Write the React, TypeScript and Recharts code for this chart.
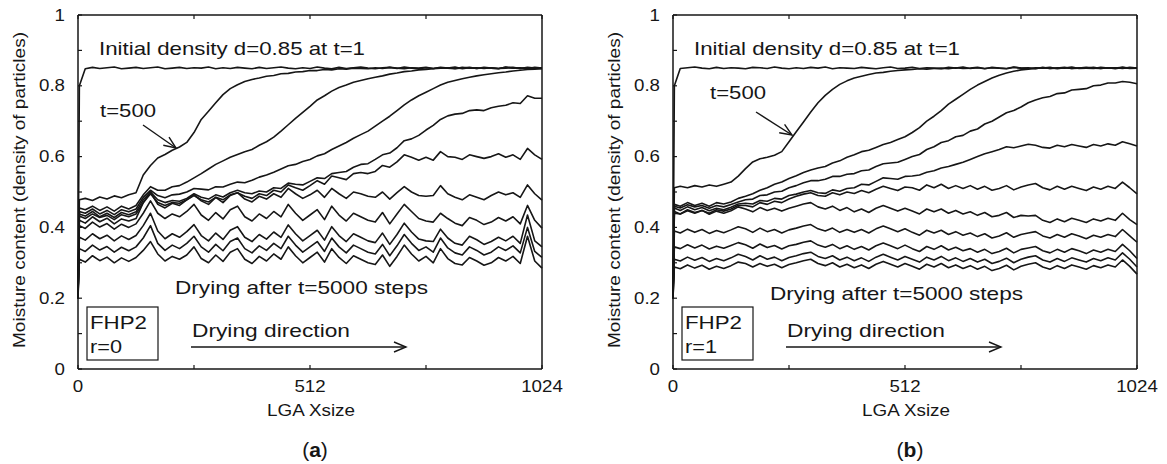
import React from 'react';
import { LineChart, Line, XAxis, YAxis } from 'recharts';

// lattice positions (LGA Xsize) where the profiles were read
const xPos = [
  0, 3,
  16, 32, 48, 64, 80, 96, 112, 128,
  144, 160, 176, 192, 208, 224, 240, 256,
  272, 288, 304, 320, 336, 352, 368, 384,
  400, 416, 432, 448, 464, 480, 496, 512,
  528, 544, 560, 576, 592, 608, 624, 640,
  656, 672, 688, 704, 720, 736, 752, 768,
  784, 800, 816, 832, 848, 864, 880, 896,
  912, 928, 944, 960, 976, 992, 1008, 1024,
];

const xTicks = [0, 256, 512, 768, 1024];
const yTicks = [0, 0.1, 0.2, 0.3, 0.4, 0.5, 0.6, 0.7, 0.8, 0.9, 1];

// ---- panel (a): FHP2, r=0 ----
const aT1 = [
  0.2, 0.8,
  0.848, 0.852, 0.849, 0.851, 0.853, 0.848, 0.850, 0.852,
  0.849, 0.851, 0.853, 0.848, 0.850, 0.852, 0.849, 0.851,
  0.850, 0.853, 0.848, 0.851, 0.849, 0.852, 0.850, 0.848,
  0.852, 0.849, 0.851, 0.853, 0.850, 0.848, 0.851, 0.849,
  0.853, 0.850, 0.848, 0.852, 0.849, 0.851, 0.853, 0.850,
  0.848, 0.851, 0.852, 0.849, 0.853, 0.850, 0.848, 0.851,
  0.849, 0.852, 0.850, 0.853, 0.848, 0.851, 0.849, 0.852,
  0.850, 0.848, 0.853, 0.851, 0.849, 0.852, 0.850, 0.851,
];
const aT500 = [
  0.2, 0.478,
  0.482, 0.476, 0.486, 0.480, 0.489, 0.484, 0.492, 0.498,
  0.548, 0.575, 0.596, 0.606, 0.618, 0.627, 0.640, 0.668,
  0.705, 0.728, 0.752, 0.775, 0.792, 0.803, 0.812, 0.818,
  0.822, 0.827, 0.829, 0.834, 0.835, 0.839, 0.840, 0.843,
  0.843, 0.846, 0.845, 0.848, 0.847, 0.850, 0.849, 0.848,
  0.851, 0.849, 0.852, 0.850, 0.848, 0.851, 0.850, 0.852,
  0.849, 0.851, 0.850, 0.848, 0.852, 0.850, 0.851, 0.849,
  0.851, 0.849, 0.850, 0.852, 0.849, 0.851, 0.850, 0.849,
];
const aT1000 = [
  0.2, 0.455,
  0.450, 0.460, 0.448, 0.458, 0.446, 0.460, 0.452, 0.462,
  0.492, 0.515, 0.505, 0.505, 0.515, 0.518, 0.528, 0.540,
  0.552, 0.565, 0.578, 0.588, 0.598, 0.606, 0.614, 0.620,
  0.632, 0.642, 0.655, 0.672, 0.690, 0.708, 0.725, 0.742,
  0.760, 0.772, 0.785, 0.795, 0.802, 0.810, 0.815, 0.820,
  0.824, 0.828, 0.833, 0.836, 0.840, 0.842, 0.845, 0.846,
  0.848, 0.850, 0.851, 0.849, 0.850, 0.852, 0.849, 0.851,
  0.850, 0.849, 0.852, 0.850, 0.851, 0.849, 0.852, 0.850,
];
const aT1500 = [
  0.2, 0.445,
  0.440, 0.452, 0.438, 0.448, 0.436, 0.450, 0.444, 0.452,
  0.485, 0.505, 0.490, 0.484, 0.492, 0.494, 0.500, 0.510,
  0.508, 0.506, 0.515, 0.514, 0.522, 0.528, 0.526, 0.533,
  0.542, 0.548, 0.556, 0.565, 0.574, 0.578, 0.586, 0.592,
  0.602, 0.608, 0.620, 0.630, 0.640, 0.652, 0.662, 0.672,
  0.686, 0.700, 0.714, 0.730, 0.746, 0.760, 0.772, 0.782,
  0.792, 0.802, 0.810, 0.815, 0.820, 0.824, 0.828, 0.831,
  0.834, 0.837, 0.839, 0.842, 0.844, 0.846, 0.847, 0.848,
];
const aT2000 = [
  0.2, 0.438,
  0.432, 0.445, 0.430, 0.440, 0.428, 0.442, 0.436, 0.444,
  0.478, 0.500, 0.478, 0.470, 0.476, 0.474, 0.482, 0.495,
  0.485, 0.480, 0.492, 0.486, 0.498, 0.505, 0.498, 0.495,
  0.503, 0.500, 0.512, 0.510, 0.525, 0.522, 0.520, 0.530,
  0.540, 0.538, 0.552, 0.555, 0.558, 0.570, 0.578, 0.580,
  0.592, 0.605, 0.610, 0.625, 0.645, 0.650, 0.660, 0.675,
  0.688, 0.705, 0.715, 0.720, 0.722, 0.730, 0.732, 0.730,
  0.738, 0.742, 0.745, 0.752, 0.750, 0.772, 0.765, 0.765,
];
const aT2500 = [
  0.2, 0.432,
  0.425, 0.438, 0.428, 0.434, 0.422, 0.436, 0.430, 0.438,
  0.470, 0.495, 0.470, 0.462, 0.470, 0.468, 0.478, 0.490,
  0.478, 0.472, 0.485, 0.478, 0.492, 0.498, 0.488, 0.482,
  0.495, 0.490, 0.505, 0.500, 0.520, 0.512, 0.505, 0.518,
  0.532, 0.522, 0.545, 0.540, 0.535, 0.552, 0.555, 0.552,
  0.558, 0.575, 0.570, 0.585, 0.605, 0.598, 0.590, 0.598,
  0.590, 0.614, 0.600, 0.598, 0.592, 0.605, 0.600, 0.595,
  0.600, 0.608, 0.598, 0.605, 0.592, 0.623, 0.605, 0.592,
];
const aT3000 = [
  0.2, 0.420,
  0.412, 0.430, 0.416, 0.426, 0.410, 0.424, 0.418, 0.425,
  0.470, 0.500, 0.465, 0.455, 0.468, 0.462, 0.478, 0.492,
  0.475, 0.465, 0.485, 0.470, 0.490, 0.498, 0.480, 0.472,
  0.488, 0.480, 0.495, 0.485, 0.510, 0.495, 0.482, 0.492,
  0.505, 0.485, 0.510, 0.495, 0.482, 0.500, 0.495, 0.488,
  0.485, 0.500, 0.480, 0.498, 0.515, 0.500, 0.490, 0.488,
  0.490, 0.518, 0.495, 0.485, 0.478, 0.492, 0.485, 0.478,
  0.490, 0.500, 0.492, 0.498, 0.485, 0.520, 0.495, 0.477,
];
const aT3500 = [
  0.2, 0.405,
  0.397, 0.415, 0.401, 0.411, 0.395, 0.409, 0.400, 0.410,
  0.440, 0.475, 0.440, 0.425, 0.438, 0.430, 0.445, 0.465,
  0.435, 0.420, 0.442, 0.424, 0.450, 0.460, 0.430, 0.418,
  0.438, 0.425, 0.445, 0.430, 0.465, 0.440, 0.420, 0.435,
  0.450, 0.422, 0.460, 0.435, 0.418, 0.440, 0.430, 0.420,
  0.415, 0.442, 0.410, 0.438, 0.465, 0.445, 0.425, 0.418,
  0.415, 0.440, 0.425, 0.412, 0.405, 0.428, 0.420, 0.408,
  0.415, 0.428, 0.418, 0.430, 0.410, 0.462, 0.420, 0.398,
];
const aT4000 = [
  0.2, 0.372,
  0.364, 0.382, 0.368, 0.378, 0.362, 0.376, 0.366, 0.377,
  0.405, 0.440, 0.390, 0.368, 0.382, 0.372, 0.388, 0.408,
  0.377, 0.362, 0.384, 0.366, 0.392, 0.402, 0.372, 0.360,
  0.380, 0.367, 0.387, 0.372, 0.407, 0.382, 0.362, 0.377,
  0.392, 0.364, 0.402, 0.377, 0.360, 0.382, 0.372, 0.362,
  0.357, 0.384, 0.352, 0.380, 0.412, 0.387, 0.367, 0.362,
  0.360, 0.395, 0.370, 0.355, 0.350, 0.375, 0.365, 0.352,
  0.360, 0.372, 0.362, 0.375, 0.355, 0.435, 0.362, 0.345,
];
const aT4500 = [
  0.2, 0.340,
  0.332, 0.350, 0.336, 0.346, 0.330, 0.344, 0.334, 0.345,
  0.370, 0.405, 0.355, 0.335, 0.350, 0.340, 0.355, 0.375,
  0.345, 0.330, 0.352, 0.334, 0.360, 0.370, 0.340, 0.328,
  0.348, 0.335, 0.355, 0.340, 0.375, 0.350, 0.330, 0.345,
  0.360, 0.332, 0.370, 0.345, 0.328, 0.350, 0.340, 0.330,
  0.325, 0.352, 0.320, 0.348, 0.380, 0.355, 0.335, 0.345,
  0.330, 0.370, 0.342, 0.328, 0.322, 0.345, 0.335, 0.322,
  0.330, 0.345, 0.335, 0.348, 0.328, 0.400, 0.332, 0.315,
];
const aT5000 = [
  0.2, 0.310,
  0.302, 0.320, 0.306, 0.316, 0.300, 0.314, 0.304, 0.315,
  0.335, 0.360, 0.325, 0.305, 0.318, 0.310, 0.322, 0.345,
  0.312, 0.300, 0.322, 0.304, 0.330, 0.340, 0.310, 0.298,
  0.318, 0.305, 0.325, 0.310, 0.345, 0.320, 0.300, 0.315,
  0.330, 0.302, 0.340, 0.315, 0.298, 0.320, 0.310, 0.300,
  0.295, 0.322, 0.290, 0.318, 0.350, 0.325, 0.305, 0.318,
  0.300, 0.340, 0.312, 0.298, 0.294, 0.315, 0.305, 0.293,
  0.300, 0.315, 0.305, 0.318, 0.298, 0.375, 0.305, 0.285,
];

// ---- panel (b): FHP2, r=1 ----
const bT1 = [
  0.2, 0.8,
  0.849, 0.851, 0.853, 0.850, 0.848, 0.852, 0.849, 0.851,
  0.850, 0.848, 0.852, 0.851, 0.849, 0.853, 0.850, 0.848,
  0.851, 0.849, 0.852, 0.850, 0.853, 0.848, 0.851, 0.850,
  0.849, 0.852, 0.850, 0.848, 0.851, 0.853, 0.849, 0.850,
  0.852, 0.849, 0.851, 0.850, 0.848, 0.852, 0.850, 0.853,
  0.849, 0.851, 0.848, 0.852, 0.850, 0.849, 0.853, 0.850,
  0.851, 0.848, 0.852, 0.849, 0.851, 0.850, 0.853, 0.849,
  0.850, 0.852, 0.849, 0.851, 0.848, 0.852, 0.850, 0.851,
];
const bT500 = [
  0.2, 0.512,
  0.516, 0.512, 0.518, 0.514, 0.520, 0.516, 0.522, 0.528,
  0.545, 0.566, 0.585, 0.594, 0.598, 0.604, 0.614, 0.642,
  0.670, 0.698, 0.726, 0.752, 0.773, 0.790, 0.804, 0.814,
  0.822, 0.827, 0.832, 0.836, 0.838, 0.841, 0.843, 0.845,
  0.846, 0.848, 0.847, 0.849, 0.850, 0.848, 0.851, 0.849,
  0.850, 0.852, 0.849, 0.851, 0.850, 0.848, 0.852, 0.850,
  0.849, 0.851, 0.850, 0.852, 0.848, 0.851, 0.849, 0.850,
  0.852, 0.850, 0.849, 0.851, 0.850, 0.852, 0.849, 0.850,
];
const bT1000 = [
  0.2, 0.465,
  0.460, 0.470, 0.462, 0.468, 0.460, 0.470, 0.466, 0.472,
  0.482, 0.488, 0.495, 0.505, 0.512, 0.522, 0.528, 0.538,
  0.546, 0.555, 0.562, 0.568, 0.572, 0.582, 0.588, 0.598,
  0.605, 0.614, 0.618, 0.626, 0.634, 0.640, 0.648, 0.656,
  0.668, 0.682, 0.700, 0.714, 0.730, 0.748, 0.762, 0.776,
  0.790, 0.802, 0.812, 0.822, 0.830, 0.836, 0.841, 0.845,
  0.847, 0.849, 0.851, 0.849, 0.850, 0.852, 0.849, 0.851,
  0.850, 0.849, 0.852, 0.850, 0.851, 0.849, 0.852, 0.850,
];
const bT1500 = [
  0.2, 0.460,
  0.455, 0.464, 0.458, 0.462, 0.454, 0.462, 0.458, 0.465,
  0.472, 0.478, 0.480, 0.490, 0.492, 0.500, 0.502, 0.512,
  0.518, 0.526, 0.532, 0.532, 0.536, 0.544, 0.544, 0.550,
  0.552, 0.560, 0.562, 0.572, 0.580, 0.582, 0.584, 0.592,
  0.600, 0.606, 0.620, 0.628, 0.640, 0.645, 0.656, 0.660,
  0.672, 0.678, 0.692, 0.700, 0.712, 0.724, 0.730, 0.740,
  0.752, 0.760, 0.766, 0.770, 0.778, 0.780, 0.788, 0.790,
  0.792, 0.800, 0.802, 0.808, 0.808, 0.812, 0.810, 0.806,
];
const bT2000 = [
  0.2, 0.455,
  0.448, 0.458, 0.450, 0.456, 0.447, 0.454, 0.450, 0.457,
  0.466, 0.468, 0.466, 0.476, 0.474, 0.482, 0.480, 0.490,
  0.494, 0.500, 0.504, 0.498, 0.496, 0.506, 0.502, 0.510,
  0.512, 0.522, 0.520, 0.530, 0.540, 0.538, 0.536, 0.544,
  0.545, 0.548, 0.556, 0.560, 0.568, 0.572, 0.578, 0.584,
  0.592, 0.600, 0.608, 0.614, 0.620, 0.628, 0.625, 0.630,
  0.635, 0.632, 0.626, 0.624, 0.632, 0.628, 0.634, 0.630,
  0.626, 0.634, 0.630, 0.636, 0.632, 0.642, 0.636, 0.630,
];
const bT2500 = [
  0.2, 0.445,
  0.438, 0.450, 0.442, 0.448, 0.440, 0.450, 0.446, 0.452,
  0.462, 0.462, 0.458, 0.470, 0.465, 0.474, 0.470, 0.480,
  0.488, 0.494, 0.498, 0.490, 0.488, 0.498, 0.492, 0.500,
  0.496, 0.504, 0.498, 0.508, 0.516, 0.510, 0.504, 0.514,
  0.512, 0.505, 0.520, 0.512, 0.522, 0.510, 0.518, 0.510,
  0.518, 0.508, 0.516, 0.505, 0.510, 0.518, 0.506, 0.514,
  0.520, 0.524, 0.512, 0.506, 0.516, 0.508, 0.516, 0.510,
  0.504, 0.514, 0.508, 0.516, 0.510, 0.528, 0.512, 0.495,
];
const bT3000 = [
  0.2, 0.440,
  0.438, 0.447, 0.440, 0.448, 0.437, 0.446, 0.440, 0.447,
  0.458, 0.452, 0.444, 0.456, 0.448, 0.454, 0.446, 0.454,
  0.460, 0.466, 0.470, 0.458, 0.452, 0.460, 0.448, 0.456,
  0.444, 0.452, 0.442, 0.454, 0.462, 0.454, 0.446, 0.454,
  0.446, 0.438, 0.452, 0.444, 0.452, 0.440, 0.448, 0.438,
  0.444, 0.434, 0.442, 0.430, 0.434, 0.442, 0.428, 0.434,
  0.432, 0.434, 0.420, 0.414, 0.424, 0.416, 0.426, 0.420,
  0.414, 0.424, 0.418, 0.426, 0.420, 0.440, 0.422, 0.408,
];
const bT3500 = [
  0.2, 0.390,
  0.384, 0.395, 0.386, 0.394, 0.383, 0.391, 0.385, 0.393,
  0.402, 0.396, 0.386, 0.398, 0.388, 0.394, 0.384, 0.393,
  0.398, 0.404, 0.408, 0.396, 0.390, 0.398, 0.386, 0.394,
  0.386, 0.394, 0.384, 0.396, 0.404, 0.396, 0.388, 0.396,
  0.386, 0.378, 0.392, 0.384, 0.392, 0.380, 0.388, 0.378,
  0.384, 0.374, 0.382, 0.370, 0.376, 0.385, 0.372, 0.380,
  0.384, 0.388, 0.376, 0.370, 0.380, 0.372, 0.382, 0.376,
  0.368, 0.378, 0.372, 0.380, 0.374, 0.394, 0.376, 0.358,
];
const bT4000 = [
  0.2, 0.345,
  0.340, 0.351, 0.342, 0.350, 0.339, 0.347, 0.341, 0.349,
  0.357, 0.351, 0.341, 0.353, 0.343, 0.349, 0.339, 0.348,
  0.352, 0.358, 0.362, 0.350, 0.344, 0.352, 0.340, 0.348,
  0.338, 0.346, 0.336, 0.348, 0.356, 0.348, 0.340, 0.350,
  0.340, 0.332, 0.346, 0.338, 0.348, 0.336, 0.344, 0.334,
  0.340, 0.330, 0.338, 0.326, 0.332, 0.341, 0.328, 0.338,
  0.342, 0.346, 0.334, 0.328, 0.338, 0.330, 0.340, 0.334,
  0.326, 0.336, 0.330, 0.338, 0.332, 0.352, 0.334, 0.312,
];
const bT4500 = [
  0.2, 0.310,
  0.305, 0.316, 0.307, 0.315, 0.304, 0.312, 0.306, 0.314,
  0.324, 0.318, 0.308, 0.320, 0.310, 0.316, 0.306, 0.315,
  0.320, 0.326, 0.330, 0.318, 0.312, 0.320, 0.308, 0.316,
  0.306, 0.314, 0.304, 0.316, 0.324, 0.316, 0.308, 0.318,
  0.310, 0.302, 0.316, 0.308, 0.318, 0.306, 0.314, 0.304,
  0.312, 0.302, 0.310, 0.298, 0.304, 0.313, 0.300, 0.310,
  0.316, 0.320, 0.308, 0.302, 0.312, 0.304, 0.314, 0.308,
  0.302, 0.312, 0.306, 0.314, 0.308, 0.328, 0.310, 0.288,
];
const bT5000 = [
  0.2, 0.288,
  0.283, 0.294, 0.285, 0.293, 0.282, 0.290, 0.284, 0.292,
  0.302, 0.298, 0.288, 0.298, 0.290, 0.296, 0.286, 0.295,
  0.300, 0.306, 0.310, 0.298, 0.292, 0.300, 0.288, 0.296,
  0.286, 0.294, 0.284, 0.296, 0.304, 0.296, 0.288, 0.298,
  0.290, 0.282, 0.296, 0.288, 0.298, 0.286, 0.294, 0.284,
  0.292, 0.282, 0.290, 0.278, 0.284, 0.293, 0.280, 0.290,
  0.296, 0.300, 0.288, 0.282, 0.292, 0.284, 0.294, 0.288,
  0.282, 0.292, 0.286, 0.294, 0.288, 0.308, 0.290, 0.268,
];

const panelA = [aT1, aT500, aT1000, aT1500, aT2000, aT2500, aT3000, aT3500, aT4000, aT4500, aT5000];
const panelB = [bT1, bT500, bT1000, bT1500, bT2000, bT2500, bT3000, bT3500, bT4000, bT4500, bT5000];

const INK = '#161616';
const FONT = '"Liberation Sans", Arial, Helvetica, sans-serif';
const STRETCH = 1.17;
const TICK = 4;

const W = 595;
const H = 464;
// axes are 1px thick, so the plot area runs x 78..542, y 15..369
const MARGIN = { top: 14, right: 52, bottom: 94, left: 77 };

function buildRows(series: number[][]) {
  return xPos.map((u, i) => {
    const row: Record<string, number> = { u };
    series.forEach((s, k) => {
      row['s' + k] = s[i];
    });
    return row;
  });
}

const fmtY = (v: number) => (v === 0 ? '0' : v === 1 ? '1' : v.toFixed(1));
const isMajorY = (v: number) => Math.round(v * 10) % 2 === 0;

const Label = ({ x, y, anchor, children }: any) => (
  <text
    transform={`translate(${x},${y}) scale(${STRETCH},1)`}
    textAnchor={anchor}
    dominantBaseline="central"
    fontSize={16}
    fontFamily={FONT}
    fill={INK}
  >
    {children}
  </text>
);

const LeftTick = (p: any) => (
  <g>
    <line x1={p.x} y1={p.y} x2={p.x + TICK} y2={p.y} stroke={INK} strokeWidth={1.2} />
    {isMajorY(p.payload.value) && (
      <Label x={p.x - 13} y={p.y} anchor="end">
        {fmtY(p.payload.value)}
      </Label>
    )}
  </g>
);
const RightTick = (p: any) => (
  <line x1={p.x} y1={p.y} x2={p.x - TICK} y2={p.y} stroke={INK} strokeWidth={1.2} />
);
const BottomTick = (p: any) => (
  <g>
    <line x1={p.x} y1={p.y} x2={p.x} y2={p.y - TICK} stroke={INK} strokeWidth={1.2} />
    {p.payload.value % 512 === 0 && (
      <Label x={p.x} y={p.y + 17} anchor="middle">
        {p.payload.value}
      </Label>
    )}
  </g>
);
const TopTick = (p: any) => (
  <line x1={p.x} y1={p.y} x2={p.x} y2={p.y + TICK} stroke={INK} strokeWidth={1.2} />
);

const Txt = ({ x, y, w, size = 18.5, anchor = 'start', children }: any) => (
  <text
    x={x}
    y={y}
    textLength={w}
    lengthAdjust="spacingAndGlyphs"
    textAnchor={anchor}
    fontSize={size}
    fontFamily={FONT}
    fill={INK}
  >
    {children}
  </text>
);

const Arrow = ({ x1, y1, x2, y2 }: any) => {
  const dx = x2 - x1;
  const dy = y2 - y1;
  const len = Math.hypot(dx, dy);
  const ux = dx / len;
  const uy = dy / len;
  const hl = 12;
  const hw = 5;
  const bx = x2 - ux * hl;
  const by = y2 - uy * hl;
  return (
    <g stroke={INK} strokeWidth={1.4} fill="none">
      <line x1={x1} y1={y1} x2={x2} y2={y2} />
      <polyline points={`${bx - uy * hw},${by + ux * hw} ${x2},${y2} ${bx + uy * hw},${by - ux * hw}`} />
    </g>
  );
};

type Notes = {
  tag: string;
  r: string;
  t500: { x: number; y: number };
  arrow: { x1: number; y1: number; x2: number; y2: number };
  dryY: number;
};

const axisLine = { stroke: INK, strokeWidth: 1.5 };

const Panel = ({ series, notes }: { series: number[][]; notes: Notes }) => {
  const rows = buildRows(series);
  return (
    <div style={{ position: 'relative', width: W, height: H }}>
      <LineChart width={W} height={H} data={rows} margin={MARGIN}>
        <XAxis
          dataKey="u"
          type="number"
          domain={[0, 1024]}
          ticks={xTicks}
          interval={0}
          height={1}
          tickSize={0}
          tickMargin={0}
          tick={BottomTick}
          axisLine={axisLine}
          tickLine={false}
        />
        <XAxis
          xAxisId="top"
          orientation="top"
          dataKey="u"
          type="number"
          domain={[0, 1024]}
          ticks={xTicks}
          interval={0}
          height={1}
          tickSize={0}
          tickMargin={0}
          tick={TopTick}
          axisLine={axisLine}
          tickLine={false}
        />
        <YAxis
          type="number"
          domain={[0, 1]}
          ticks={yTicks}
          interval={0}
          width={1}
          tickSize={0}
          tickMargin={0}
          tick={LeftTick}
          axisLine={axisLine}
          tickLine={false}
        />
        <YAxis
          yAxisId="right"
          orientation="right"
          type="number"
          domain={[0, 1]}
          ticks={yTicks}
          interval={0}
          width={1}
          tickSize={0}
          tickMargin={0}
          tick={RightTick}
          axisLine={axisLine}
          tickLine={false}
        />
        {series.map((_, k) => (
          <Line
            key={k}
            dataKey={'s' + k}
            type="linear"
            stroke={INK}
            strokeWidth={1.6}
            strokeLinejoin="round"
            dot={false}
            isAnimationActive={false}
          />
        ))}
      </LineChart>
      <svg width={W} height={H} style={{ position: 'absolute', left: 0, top: 0, pointerEvents: 'none' }}>
        <Txt x={99} y={55} w={266}>Initial density d=0.85 at t=1</Txt>
        <Txt x={notes.t500.x} y={notes.t500.y} w={56} size={18}>t=500</Txt>
        <Arrow {...notes.arrow} />
        <Txt x={175} y={notes.dryY} w={253}>Drying after t=5000 steps</Txt>
        <Txt x={192} y={337} w={158} size={19}>Drying direction</Txt>
        <Arrow x1={191} y1={347} x2={406} y2={347} />
        <rect x={87} y={307} width={71} height={53} fill="none" stroke={INK} strokeWidth={1.2} />
        <Txt x={90} y={329} w={57} size={19}>FHP2</Txt>
        <Txt x={90} y={353} w={32} size={19}>{notes.r}</Txt>
        <Txt x={311} y={416} w={88} size={17} anchor="middle">LGA Xsize</Txt>
        <text
          transform="translate(25,190) rotate(-90)"
          textLength={316}
          lengthAdjust="spacingAndGlyphs"
          textAnchor="middle"
          fontSize={16.5}
          fontFamily={FONT}
          fill={INK}
        >
          Moisture content (density of particles)
        </text>
        <text x={315} y={457} textAnchor="middle" fontSize={21} fontFamily={FONT} fill={INK}>
          (<tspan fontWeight="bold">{notes.tag}</tspan>)
        </text>
      </svg>
    </div>
  );
};

const notesA: Notes = {
  tag: 'a',
  r: 'r=0',
  t500: { x: 100, y: 117 },
  arrow: { x1: 143, y1: 125, x2: 176, y2: 148 },
  dryY: 294,
};
const notesB: Notes = {
  tag: 'b',
  r: 'r=1',
  t500: { x: 115, y: 99 },
  arrow: { x1: 161, y1: 112, x2: 197, y2: 135 },
  dryY: 300,
};

export default function App() {
  return (
    <div style={{ position: 'absolute', left: 0, top: 0, width: 1167, height: 464, background: '#fff', display: 'flex' }}>
      <Panel series={panelA} notes={notesA} />
      <Panel series={panelB} notes={notesB} />
    </div>
  );
}
